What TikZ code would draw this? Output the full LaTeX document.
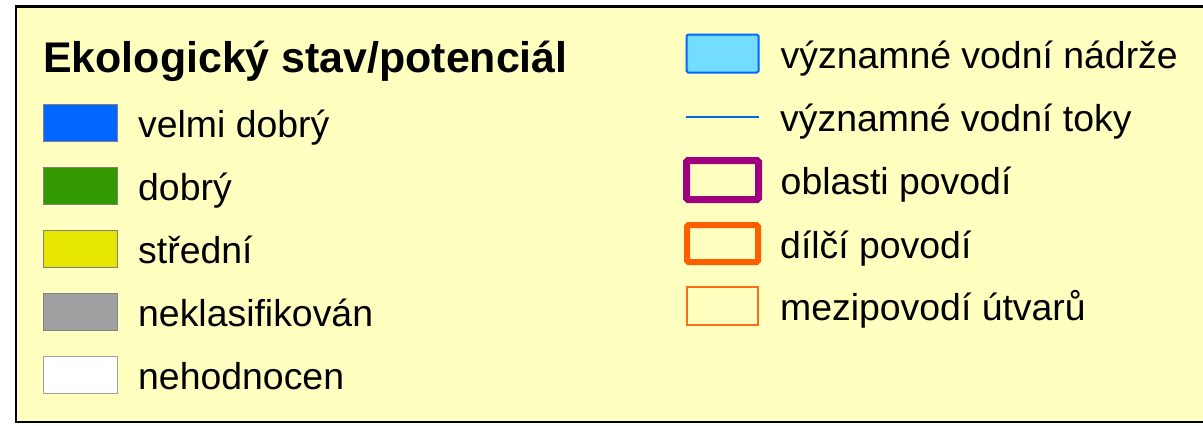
\documentclass[tikz,border=0pt]{standalone}
\usepackage{fontspec}
\setmainfont{Liberation Sans}
\usetikzlibrary{positioning}
\definecolor{legbg}{RGB}{255,255,192}
\definecolor{swgray}{RGB}{128,128,128}
\definecolor{velmi}{RGB}{0,102,255}
\definecolor{dobry}{RGB}{51,153,0}
\definecolor{stredni}{RGB}{230,230,0}
\definecolor{neklas}{RGB}{160,160,160}
\definecolor{nadrz}{RGB}{115,220,255}
\definecolor{tok}{RGB}{0,102,230}
\definecolor{oblast}{RGB}{160,0,128}
\definecolor{dilci}{RGB}{255,94,0}
\definecolor{mezi}{RGB}{255,110,20}
\tikzstyle{swatch}=[rectangle, draw=swgray, line width=1pt, minimum width=74pt, minimum height=37pt, inner sep=0pt, outer sep=0pt]
\tikzstyle{areabox}=[rectangle, minimum width=72pt, minimum height=38pt, inner sep=0pt, outer sep=0pt, rounded corners=1.5pt]
\tikzstyle{legtext}=[anchor=west, inner sep=0pt, text height=29.5pt, text depth=0pt, font=\fontsize{37.4}{41}\selectfont]
\newcommand{\swatch}{\node[swatch]}

\begin{document}
\begin{tikzpicture}[x=1pt,y=-1pt]
	\useasboundingbox (0,0) rectangle (1203,426);
	\draw[line width=2.5pt, fill=legbg] (16.2,6.3) rectangle (1240,422);
	\node[anchor=base west, inner sep=0pt, font=\fontsize{42.9}{46}\selectfont\bfseries] (title) at (43,72.7) {Ekologický stav/potenciál};
	% stav / potencial
	\swatch[fill=velmi](v1) at (80.5,123) {};
	\swatch[fill=dobry](v2) at (80.5,185.5) {};
	\swatch[fill=stredni](v3) at (80.5,248.5) {};
	\swatch[fill=neklas](v4) at (80.5,311.5) {};
	\swatch[fill=white,draw=neklas](v5) at (80.5,374.5) {};
	\node[legtext, right=20.5pt of v1] (t1) {velmi dobrý};
	\node[legtext, right=20.5pt of v2] (t2) {dobrý};
	\node[legtext, right=20.5pt of v3] (t3) {střední};
	\node[legtext, right=20.5pt of v4] (t4) {neklasifikován};
	\node[legtext, right=20.5pt of v5] (t5) {nehodnocen};
	% vodni utvary a hranice
	\node[areabox, draw=velmi, fill=nadrz, line width=2pt] (R) at (722.5,53.5) {};
	\coordinate (La) at (686,116.7);
	\coordinate (Lb) at (759,116.7);
	\draw[tok, line width=2pt] (La) -- (Lb);
	\node[areabox, draw=oblast, line width=7pt, minimum height=39pt] (O) at (722.5,180) {};
	\node[areabox, draw=dilci, line width=6pt, minimum width=71pt, minimum height=37pt] (D) at (722.5,243.5) {};
	\node[areabox, draw=mezi, line width=1.2pt, minimum width=71pt, rounded corners=0pt] (M) at (722.5,306) {};
	\node[legtext, right=22pt of R] (tR) {významné vodní nádrže};
	\node[legtext, right=21pt of Lb] (tL) {významné vodní toky};
	\node[legtext, right=22pt of O] (tO) {oblasti povodí};
	\node[legtext, right=22pt of D] (tD) {dílčí povodí};
	\node[legtext, right=22pt of M] (tM) {mezipovodí útvarů};
\end{tikzpicture}
\end{document}
